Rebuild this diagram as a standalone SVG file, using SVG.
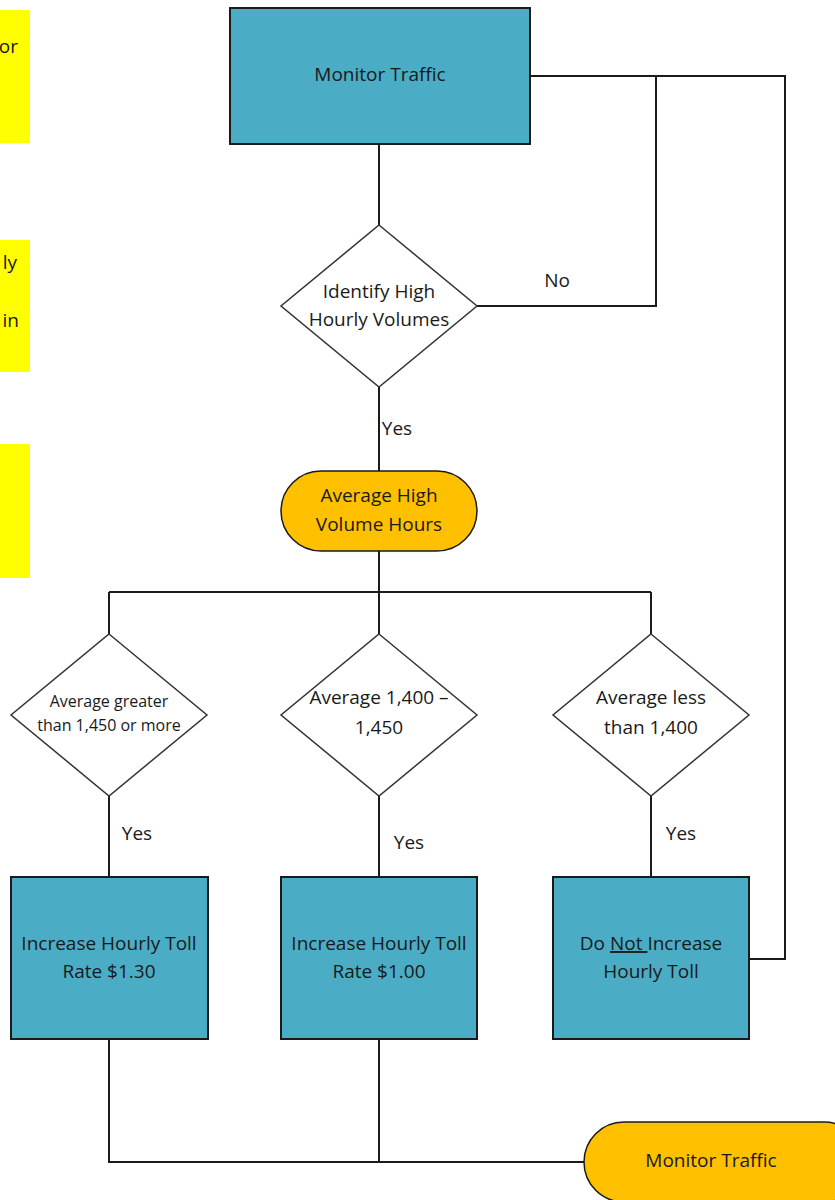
<svg xmlns="http://www.w3.org/2000/svg" width="835" height="1200" viewBox="0 0 835 1200">
<style>
.t{font-family:"Open Sans","Liberation Sans",sans-serif;font-size:19px;fill:#1a1a1a;text-anchor:middle}
.s{font-size:16px}
.box{fill:#4BACC6;stroke:#1a1a1a;stroke-width:2}
.term{fill:#FFC000;stroke:#1a1a1a;stroke-width:1.5}
.dia{fill:#fff;stroke:#333;stroke-width:1.5}
.ln{fill:none;stroke:#1a1a1a;stroke-width:2}
.y{fill:#FFFF00}
</style>
<rect width="835" height="1200" fill="#fff"/>
<g id="notes">
<rect class="y" x="0" y="10" width="30" height="133"/>
<text class="t" x="18" y="53" style="text-anchor:end">or</text>
<rect class="y" x="0" y="240" width="30" height="132"/>
<text class="t" x="17" y="269" style="text-anchor:end">ly</text>
<text class="t" x="19" y="327" style="text-anchor:end">in</text>
<rect class="y" x="0" y="444" width="30" height="134"/>
</g>
<g id="connectors">
<path class="ln" d="M379 144V225M379 387V471M379 551V592M109 592H651M109 592V634M379 592V634M651 592V634"/>
<path class="ln" d="M530 76H785V959H749M656 76V306H477"/>
<path class="ln" d="M109 796V877M379 796V877M651 796V877"/>
<path class="ln" d="M109 1039V1162H584M379 1039V1162"/>
<text class="t" x="397" y="435">Yes</text>
<text class="t" x="557" y="287">No</text>
<text class="t" x="137" y="840">Yes</text>
<text class="t" x="409" y="849">Yes</text>
<text class="t" x="681" y="840">Yes</text>
</g>
<g id="monitor1">
<rect class="box" x="230" y="8" width="300" height="136"/>
<text class="t" x="380" y="81">Monitor Traffic</text>
</g>
<g id="identify">
<polygon class="dia" points="379,225 477,306 379,387 281,306"/>
<text class="t" x="379" y="298">Identify High</text>
<text class="t" x="379" y="326">Hourly Volumes</text>
</g>
<g id="average">
<rect class="term" x="281" y="471" width="196" height="80" rx="40"/>
<text class="t" x="379" y="502">Average High</text>
<text class="t" x="379" y="531">Volume Hours</text>
</g>
<g id="d1">
<polygon class="dia" points="109,634 207,715 109,796 11,715"/>
<text class="t s" x="109" y="707">Average greater</text>
<text class="t s" x="109" y="731">than 1,450 or more</text>
</g>
<g id="d2">
<polygon class="dia" points="379,634 477,715 379,796 281,715"/>
<text class="t" x="379" y="704">Average 1,400 –</text>
<text class="t" x="379" y="734">1,450</text>
</g>
<g id="d3">
<polygon class="dia" points="651,634 749,715 651,796 553,715"/>
<text class="t" x="651" y="704">Average less</text>
<text class="t" x="651" y="734">than 1,400</text>
</g>
<g id="b1">
<rect class="box" x="11" y="877" width="197" height="162"/>
<text class="t" x="109" y="950">Increase Hourly Toll</text>
<text class="t" x="109" y="978">Rate $1.30</text>
</g>
<g id="b2">
<rect class="box" x="281" y="877" width="196" height="162"/>
<text class="t" x="379" y="950">Increase Hourly Toll</text>
<text class="t" x="379" y="978">Rate $1.00</text>
</g>
<g id="b3">
<rect class="box" x="553" y="877" width="196" height="162"/>
<text class="t" x="651" y="950">Do <tspan text-decoration="underline">Not </tspan>Increase</text>
<text class="t" x="651" y="978">Hourly Toll</text>
</g>
<g id="monitor2">
<rect class="term" x="584" y="1122" width="280" height="80" rx="40"/>
<text class="t" x="711" y="1167">Monitor Traffic</text>
</g>
</svg>
